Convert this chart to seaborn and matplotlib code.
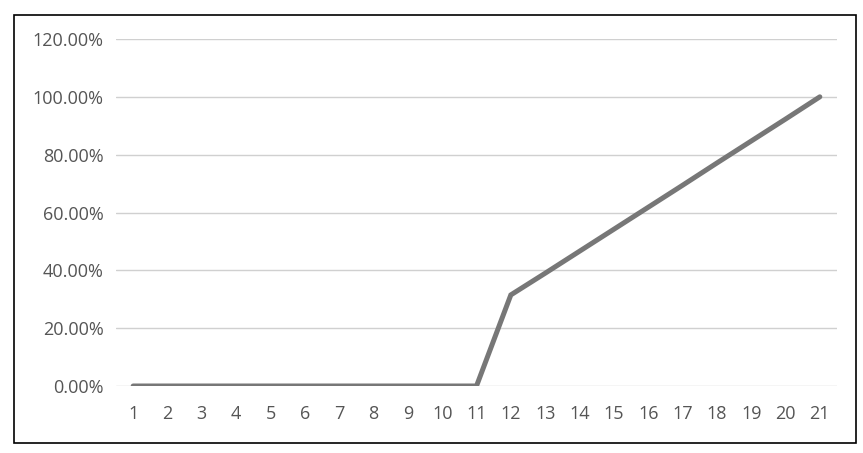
import matplotlib
matplotlib.use("Agg")
import matplotlib.pyplot as plt
import matplotlib.patches as mpatches
import seaborn as sns
import pandas as pd
from matplotlib.ticker import FuncFormatter

# chart data
periods = list(range(1, 22))
share = [0, 0, 0, 0, 0, 0, 0, 0, 0, 0, 0,
         0.315, 0.39, 0.466, 0.542, 0.618, 0.694, 0.771, 0.847, 0.923, 1.0]
y_ticks = [0, 0.2, 0.4, 0.6, 0.8, 1.0, 1.2]

df = pd.DataFrame({"period": periods, "share": share})

sns.set_theme(style="white")
plt.rcParams["font.family"] = ["Open Sans", "DejaVu Sans"]

W, H = 863, 453
fig = plt.figure(figsize=(W / 100, H / 100), dpi=100)

# outer black frame like the screenshot border
frame = mpatches.Rectangle((14 / W, 10 / H), (856 - 14) / W, (438 - 10) / H,
                           transform=fig.transFigure, fill=False,
                           edgecolor="black", linewidth=1.2)
fig.patches.append(frame)

ax = fig.add_axes([116 / W, (H - 386) / H, (837 - 116) / W, (386 - 39) / H])

sns.lineplot(data=df, x="period", y="share", ax=ax, color="#777777",
             linewidth=3.6, solid_joinstyle="miter")

ax.set_xlim(0.5, 21.5)
ax.set_ylim(0, 1.2)
ax.set_yticks(y_ticks)
ax.set_xticks(periods)
ax.yaxis.set_major_formatter(FuncFormatter(lambda v, _: f"{v * 100:.2f}%"))
ax.grid(axis="y", color="#d0d0d0", linewidth=1)
ax.set_axisbelow(True)
for s in ax.spines.values():
    s.set_visible(False)
ax.tick_params(axis="both", length=0, labelsize=13, labelcolor="#555555")
ax.tick_params(axis="y", pad=9)
ax.tick_params(axis="x", pad=14)
ax.set_xlabel("")
ax.set_ylabel("")

fig.savefig("out.png", dpi=100)
